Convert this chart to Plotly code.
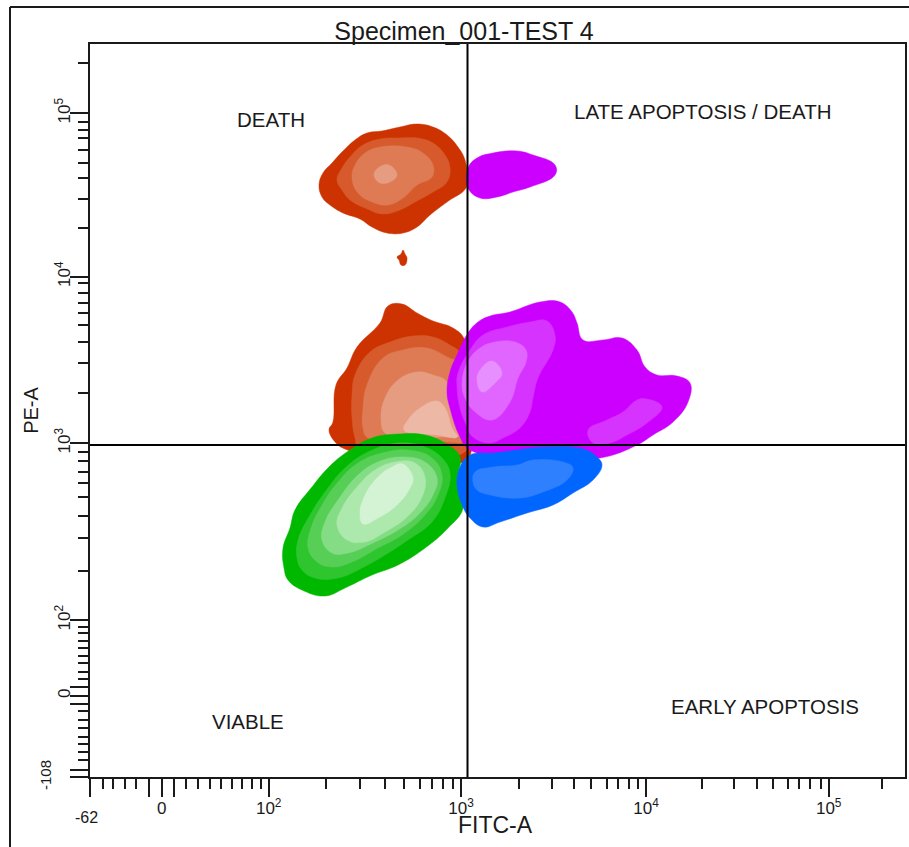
import plotly.graph_objects as go

# Both axes are biexponential display scales, expressed in channel units.
FITC_RANGE = [0, 815]
PE_RANGE = [0, 733]
FITC_GATE = 377.5
PE_GATE = 332

FITC_MAJOR = [0, 59, 71.7, 84, 178.7, 371, 556, 738.7]
FITC_MAJOR_TEXT = ["", "", "0", "", "10<sup>2</sup>", "10<sup>3</sup>", "10<sup>4</sup>", "10<sup>5</sup>"]
FITC_MINOR = [12.7, 23, 35, 46, 96, 108, 120, 131, 142, 152, 162, 171,
              235.7, 270, 295, 314, 330, 342, 353, 363,
              429, 461.7, 484, 500.7, 516.7, 527.7, 539, 548,
              611.7, 644, 666.7, 682.7, 697.7, 709, 720, 730.7, 792]
PE_MAJOR = [0, 6.6, 73, 81.3, 89.7, 156.7, 333.7, 500.3, 663.7]
PE_MAJOR_TEXT = ["", "", "", "0", "", "10<sup>2</sup>", "10<sup>3</sup>", "10<sup>4</sup>", "10<sup>5</sup>"]
PE_MINOR = [17, 25.3, 33, 40.3, 48.7, 57, 66,
            98, 105.3, 114, 121, 129, 136, 144, 150.3,
            206, 239, 261, 280.3, 294, 305.3, 316, 325.3,
            384.3, 414, 435, 452, 464, 474.3, 484, 494.3,
            549, 578, 599, 614, 627, 639, 647, 655.3, 713.7]

RED = ["#CC3300", "#D65A2C", "#DE7A54", "#E59C80", "#EDB9A6"]
GREEN = ["#00B800", "#2EC52E", "#57CF57", "#84DC84", "#ADE8AD", "#D4F3D4"]
MAGENTA = ["#CC00FF", "#D633FF", "#E066FF", "#E88FFF"]
BLUE = ["#0066FF", "#2F80FF"]

RED_TOP_1 = [(229,592),(233,604),(242,614),(252,625),(265,637),(277,644),(292,646),(310,650),(327,653),(343,650),(357,642),(368,630),(375,617),(377,600),(376,589),(357,575),(340,562),(327,550),(313,544),(297,544),(282,550),(270,558),(253,564),(240,572),(232,580)]
RED_TOP_2 = [(247,597),(252,609),(260,620),(273,632),(290,638),(310,639),(327,639),(343,634),(355,622),(360,609),(357,595),(343,585),(325,575),(310,567),(293,563),(275,569),(260,577),(252,587)]
RED_TOP_3 = [(262,599),(265,612),(275,624),(290,630),(317,630),(333,624),(343,612),(342,600),(327,592),(313,579),(298,572),(282,575),(268,584)]
RED_TOP_4 = [(284,602),(288,609),(299,612),(307,602),(300,595),(290,594)]
RED_DOT = [(307,520),(311,523),(313,527),(315,523),(317,519),(315,512),(311,512),(309,517)]
MAG_TOP = [(378,609),(387,619),(403,624),(427,626),(443,622),(465,612),(465,602),(440,590),(423,585),(407,580),(390,579),(378,589)]

RED_LOW_1 = [(298,471),(312,473),(327,464),(343,456),(363,449),(375,437),(382,397),(382,347),(377,317),(350,315),(310,315),(255,328),(246,334),(239,347),(243,355),(246,392),(257,409),(267,430),(290,454)]
RED_LOW_2 = [(262,382),(265,402),(280,425),(300,435),(323,441),(343,440),(360,432),(370,424),(377,382),(377,327),(270,327),(265,339),(262,359)]
RED_LOW_3 = [(273,369),(277,392),(293,419),(313,427),(337,429),(357,420),(370,412),(375,337),(357,335),(278,339),(273,349)]
RED_LOW_4 = [(291,359),(295,379),(308,397),(327,405),(343,402),(357,395),(363,365),(370,342),(350,340),(313,339),(295,344)]
RED_LOW_5 = [(314,347),(318,357),(330,369),(347,376),(355,369),(362,349),(367,340),(347,342)]

MAG_LOW_1 = [(357,385),(360,405),(367,422),(378,444),(388,455),(400,461),(420,465),(450,475),(470,475),(482,465),(487,454),(493,437),(513,437),(532,439),(547,427),(555,410),(567,402),(587,401),(600,394),(598,375),(583,355),(563,342),(547,332),(510,319),(450,319),(380,327),(370,340),(360,369)]
MAG_LOW_2A = [(367,390),(368,404),(380,427),(393,442),(417,450),(440,455),(457,456),(465,442),(463,427),(448,399),(443,379),(440,365),(430,349),(413,339),(400,334),(383,340),(375,355),(370,369)]
MAG_LOW_2B = [(498,347),(517,357),(533,365),(547,377),(557,378),(572,370),(557,354),(537,342),(520,334),(503,334)]
MAG_LOW_3 = [(372,392),(377,414),(390,429),(405,435),(425,435),(436,427),(436,415),(428,399),(420,375),(402,357),(383,367),(375,379)]
MAG_LOW_4 = [(387,397),(390,407),(402,416),(412,404),(405,394),(392,385)]

GREEN_1 = [(194,209),(193,229),(200,249),(205,267),(222,290),(238,309),(257,325),(282,339),(308,343),(335,342),(358,332),(370,320),(367,295),(373,269),(358,249),(335,229),(308,212),(282,202),(255,189),(235,181),(212,187),(198,197)]
GREEN_2 = [(207,219),(208,237),(220,262),(235,285),(255,309),(278,325),(308,334),(335,330),(352,319),(360,304),(355,279),(342,255),(318,237),(295,222),(272,209),(248,199),(225,199),(212,207)]
GREEN_3 = [(218,229),(221,249),(232,272),(248,295),(268,314),(292,324),(318,327),(342,319),(352,302),(348,282),(335,262),(312,242),(288,229),(262,215),(242,210),(227,215)]
GREEN_4 = [(232,237),(235,255),(248,277),(268,302),(288,315),(312,320),(335,315),(347,299),(343,282),(328,262),(308,247),(285,235),(258,224),(242,224)]
GREEN_5 = [(247,252),(252,269),(267,290),(285,307),(305,315),(325,314),(335,300),(332,280),(317,260),(295,245),(275,235),(257,237)]
GREEN_6 = [(270,265),(273,277),(285,297),(302,310),(313,313),(323,299),(320,289),(307,272),(288,259),(273,253)]

BLUE_1 = [(367,292),(370,310),(380,322),(403,324),(427,327),(453,330),(493,328),(507,320),(512,312),(503,297),(483,284),(463,272),(437,264),(410,255),(393,250),(380,259),(373,270)]
BLUE_2 = [(383,295),(385,305),(403,310),(427,312),(443,317),(473,315),(483,309),(477,297),(453,285),(430,279),(400,282),(387,287)]

LAYERS = [
    (RED_TOP_1, RED[0]), (RED_TOP_2, RED[1]), (RED_TOP_3, RED[2]), (RED_TOP_4, RED[3]),
    (RED_DOT, RED[0]), (MAG_TOP, MAGENTA[0]),
    (RED_LOW_1, RED[0]), (RED_LOW_2, RED[1]), (RED_LOW_3, RED[2]), (RED_LOW_4, RED[3]), (RED_LOW_5, RED[4]),
    (GREEN_1, GREEN[0]), (GREEN_2, GREEN[1]), (GREEN_3, GREEN[2]), (GREEN_4, GREEN[3]), (GREEN_5, GREEN[4]), (GREEN_6, GREEN[5]),
    (MAG_LOW_1, MAGENTA[0]), (MAG_LOW_2A, MAGENTA[1]), (MAG_LOW_2B, MAGENTA[1]), (MAG_LOW_3, MAGENTA[2]), (MAG_LOW_4, MAGENTA[3]),
    (BLUE_1, BLUE[0]), (BLUE_2, BLUE[1]),
]

INK = "#1a1a1a"
FONT = "Liberation Sans"

fig = go.Figure()
for points, colour in LAYERS:
    xs = [p[0] for p in points] + [points[0][0]]
    ys = [p[1] for p in points] + [points[0][1]]
    fig.add_trace(go.Scatter(x=xs, y=ys, mode="lines", fill="toself", fillcolor=colour,
                             line=dict(color=colour, width=0.5, shape="spline", smoothing=1.2),
                             hoverinfo="skip", showlegend=False))


def axis(vals, text, minor, rng, **kw):
    return dict(range=rng, tickmode="array", tickvals=vals, ticktext=text, ticks="outside",
                ticklen=18, tickwidth=2, tickcolor=INK, showline=True, mirror=True,
                linecolor=INK, linewidth=2, showgrid=False, zeroline=False,
                tickfont=dict(family=FONT, size=17, color=INK),
                minor=dict(tickmode="array", tickvals=minor, ticks="outside", ticklen=10,
                           tickwidth=2, tickcolor=INK, showgrid=False),
                **kw)


QUADRANT_LABELS = [("DEATH", 181, 658), ("LATE APOPTOSIS / DEATH", 612, 666),
                   ("VIABLE", 158, 56), ("EARLY APOPTOSIS", 675, 71)]
annotations = [dict(text=t, x=x, y=y, xref="x", yref="y", showarrow=False,
                    xanchor="center", yanchor="middle",
                    font=dict(family=FONT, size=20.5, color=INK)) for t, x, y in QUADRANT_LABELS]
annotations.append(dict(text="-62", x=-0.0037, xref="paper", y=-0.0559, yref="paper", showarrow=False,
                        xanchor="center", yanchor="middle",
                        font=dict(family=FONT, size=16, color=INK)))
annotations.append(dict(text="-108", y=2, yref="y", x=-0.0552, xref="paper", showarrow=False, textangle=-90,
                        xanchor="center", yanchor="middle",
                        font=dict(family=FONT, size=15, color=INK)))
annotations.append(dict(text="FITC-A", x=0.498, xref="paper", y=-0.0655, yref="paper", showarrow=False,
                        xanchor="center", yanchor="middle",
                        font=dict(family=FONT, size=23, color=INK)))

fig.update_layout(
    width=909, height=847,
    margin=dict(l=90, r=4, t=44, b=70, autoexpand=False),
    paper_bgcolor="white", plot_bgcolor="white",
    title=dict(text="Specimen_001-TEST 4", x=464 / 909, y=1 - 31 / 847,
               xanchor="center", yanchor="middle",
               font=dict(family=FONT, size=25, color=INK)),
    xaxis=axis(FITC_MAJOR, FITC_MAJOR_TEXT, FITC_MINOR, FITC_RANGE, ticklabelstandoff=-3),
    yaxis=axis(PE_MAJOR, PE_MAJOR_TEXT, PE_MINOR, PE_RANGE, tickangle=-90, ticklabelstandoff=-7,
               title=dict(text="PE-A", standoff=8, font=dict(family=FONT, size=20, color=INK))),
    annotations=annotations,
    shapes=[
        dict(type="line", xref="x", yref="paper", x0=FITC_GATE, x1=FITC_GATE, y0=0, y1=1,
             line=dict(color="black", width=2), layer="above"),
        dict(type="line", xref="paper", yref="y", x0=0, x1=1, y0=PE_GATE, y1=PE_GATE,
             line=dict(color="black", width=2), layer="above"),
        dict(type="line", xref="paper", yref="paper", x0=-80 / 815, x1=-80 / 815, y0=-70 / 733, y1=770 / 733,
             line=dict(color=INK, width=2)),
        dict(type="line", xref="paper", yref="paper", x0=-80 / 815, x1=819 / 815, y0=770 / 733, y1=770 / 733,
             line=dict(color=INK, width=2)),
    ],
)

fig.write_html("out.html", config={"displayModeBar": False},
               post_script="document.body.style.margin='0';")
